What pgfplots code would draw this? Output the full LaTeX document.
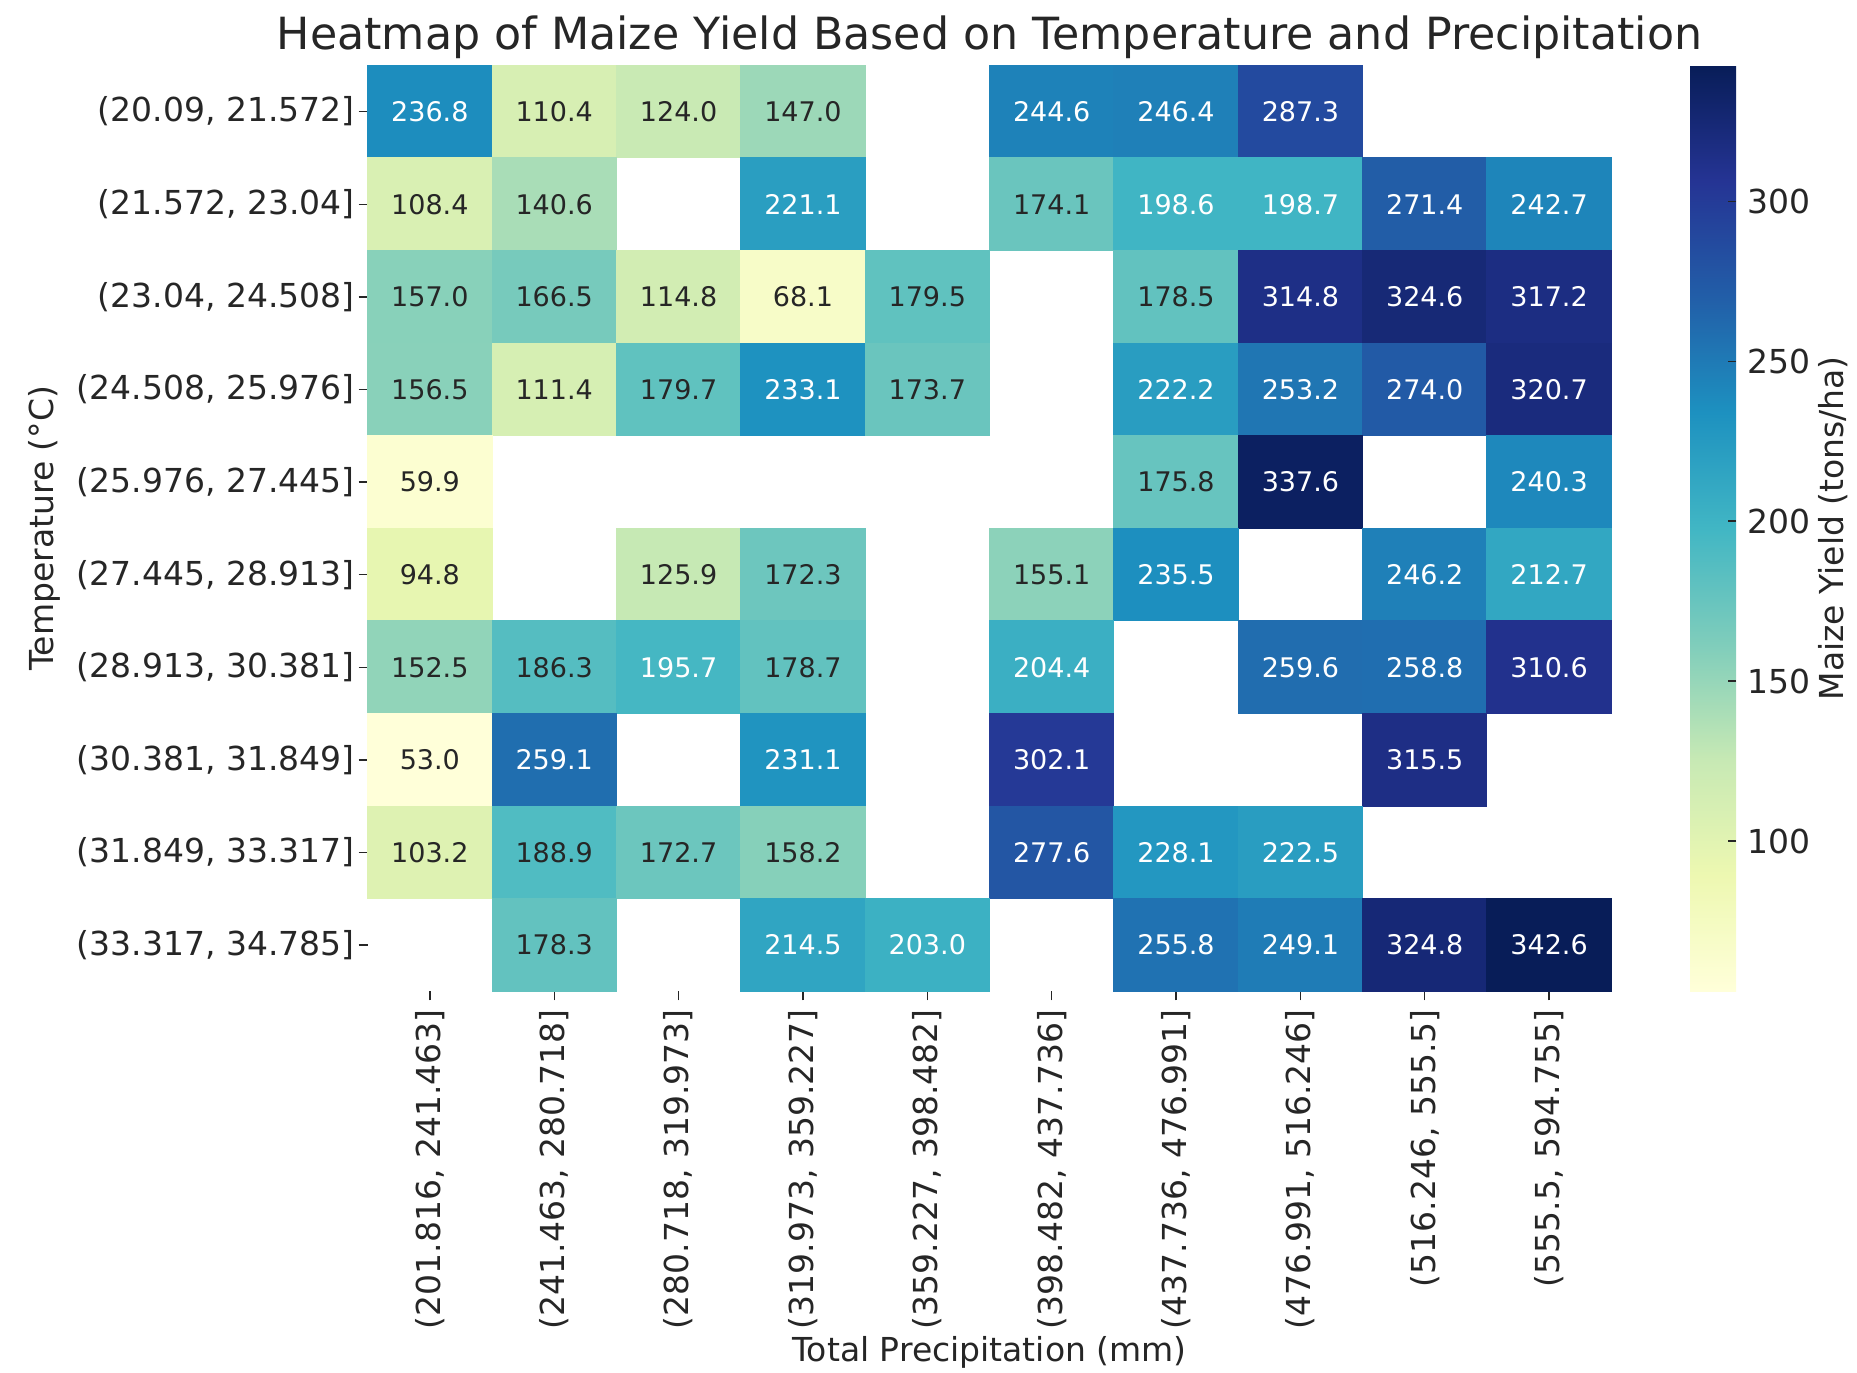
\documentclass[border=0pt]{standalone}
\usepackage{fontspec}
\setmainfont{DejaVu Sans}
\usepackage{pgfplots}
\pgfplotsset{compat=1.18}
\usepackage{pgfplotstable}

\definecolor{txt}{rgb}{0.15,0.15,0.15}

\pgfplotsset{
  colormap={ylgnbu}{rgb255=(255,255,217) rgb255=(237,248,177) rgb255=(199,233,180) rgb255=(127,205,187) rgb255=(65,182,196) rgb255=(29,145,192) rgb255=(34,94,168) rgb255=(37,52,148) rgb255=(8,29,88)}
}

% x = precipitation bin (column), y = temperature bin (row, 0 = top), z = yield
\pgfplotstableread{
x y z
0 0 236.8
1 0 110.4
2 0 124.0
3 0 147.0
5 0 244.6
6 0 246.4
7 0 287.3
0 1 108.4
1 1 140.6
3 1 221.1
5 1 174.1
6 1 198.6
7 1 198.7
8 1 271.4
9 1 242.7
0 2 157.0
1 2 166.5
2 2 114.8
3 2 68.1
4 2 179.5
6 2 178.5
7 2 314.8
8 2 324.6
9 2 317.2
0 3 156.5
1 3 111.4
2 3 179.7
3 3 233.1
4 3 173.7
6 3 222.2
7 3 253.2
8 3 274.0
9 3 320.7
0 4 59.9
6 4 175.8
7 4 337.6
9 4 240.3
0 5 94.8
2 5 125.9
3 5 172.3
5 5 155.1
6 5 235.5
8 5 246.2
9 5 212.7
0 6 152.5
1 6 186.3
2 6 195.7
3 6 178.7
5 6 204.4
7 6 259.6
8 6 258.8
9 6 310.6
0 7 53.0
1 7 259.1
3 7 231.1
5 7 302.1
8 7 315.5
0 8 103.2
1 8 188.9
2 8 172.7
3 8 158.2
5 8 277.6
6 8 228.1
7 8 222.5
1 9 178.3
3 9 214.5
4 9 203.0
6 9 255.8
7 9 249.1
8 9 324.8
9 9 342.6
}\cells

\begin{document}
\begin{tikzpicture}
\useasboundingbox (-110.3pt,-114.5pt) rectangle (446.8pt,297.4pt);
\begin{axis}[
  at={(0,0)}, anchor=south west,
  scale only axis, width=373.1pt, height=277.8pt,
  xmin=-0.5, xmax=9.5, ymin=-0.5, ymax=9.5,
  y dir=reverse,
  axis line style={draw=none},
  xtick={0,...,9}, ytick={0,...,9},
  xticklabels={{(201.816, 241.463]},{(241.463, 280.718]},{(280.718, 319.973]},{(319.973, 359.227]},{(359.227, 398.482]},{(398.482, 437.736]},{(437.736, 476.991]},{(476.991, 516.246]},{(516.246, 555.5]},{(555.5, 594.755]}},
  yticklabels={{(20.09, 21.572]},{(21.572, 23.04]},{(23.04, 24.508]},{(24.508, 25.976]},{(25.976, 27.445]},{(27.445, 28.913]},{(28.913, 30.381]},{(30.381, 31.849]},{(31.849, 33.317]},{(33.317, 34.785]}},
  xtick pos=bottom, ytick pos=left,
  tick align=outside, major tick length=2.7pt,
  tick style={color=txt, line width=0.4pt},
  /pgf/number format/assume math mode=true,
  ticklabel style={font=\fontsize{9.9}{11}\selectfont, text=txt},
  xticklabel style={rotate=90, anchor=east, inner xsep=2.5pt, inner ysep=1pt},
  yticklabel style={inner sep=1pt},
  label style={font=\fontsize{9.9}{11}\selectfont, text=txt},
  xlabel={Total Precipitation (mm)},
  ylabel={Temperature (°C)},
  xlabel style={at={(axis description cs:0.5,-0.3902)}, anchor=center},
  ylabel style={at={(axis description cs:-0.2603,0.5)}, anchor=center},
  title={Heatmap of Maize Yield Based on Temperature and Precipitation},
  every axis title shift=0pt,
  title style={at={(axis description cs:0.5,1)}, anchor=base, yshift=4.6pt, inner sep=0pt, font=\fontsize{13.3}{15}\selectfont, text=txt},
  colormap name=ylgnbu,
  point meta min=53.0, point meta max=342.6,
  colorbar,
  colorbar style={
    at={(parent axis.north east)}, anchor=north west, xshift=15.1pt,
    scale only axis, width=13.8pt, height=277.8pt,
    axis line style={draw=none},
    ytick={100,150,200,250,300},
    yticklabels={100,150,200,250,300},
    ytick pos=right, yticklabel pos=right,
    tick align=inside, major tick length=2.5pt,
    tick style={color=txt, line width=0.5pt},
    yticklabel style={font=\fontsize{9.9}{11}\selectfont, text=txt, inner xsep=3.3pt},
    ylabel={Maize Yield (tons/ha)},
    ylabel style={at={(axis description cs:3.109,0.5)}, anchor=center, font=\fontsize{9.9}{11}\selectfont, text=txt},
  },
]
\addplot[scatter, only marks, mark=square*, mark size=13.89pt,
  mark options={xscale=1.3431, line width=0.3pt},
  scatter src=explicit,
  scatter/use mapped color={draw=mapped color, fill=mapped color}]
  table[x=x, y=y, meta=z]{\cells};
\addplot[draw=none, mark=none, point meta=explicit symbolic,
  nodes near coords={\ifdim\pgfplotspointmeta pt<192pt\color{txt}\else\color{white}\fi\pgfplotspointmeta},
  nodes near coords align=center,
  every node near coord/.append style={font=\fontsize{8.1}{9}\selectfont, anchor=center}]
  table[x=x, y=y, meta=z]{\cells};
\end{axis}
\end{tikzpicture}
\end{document}
